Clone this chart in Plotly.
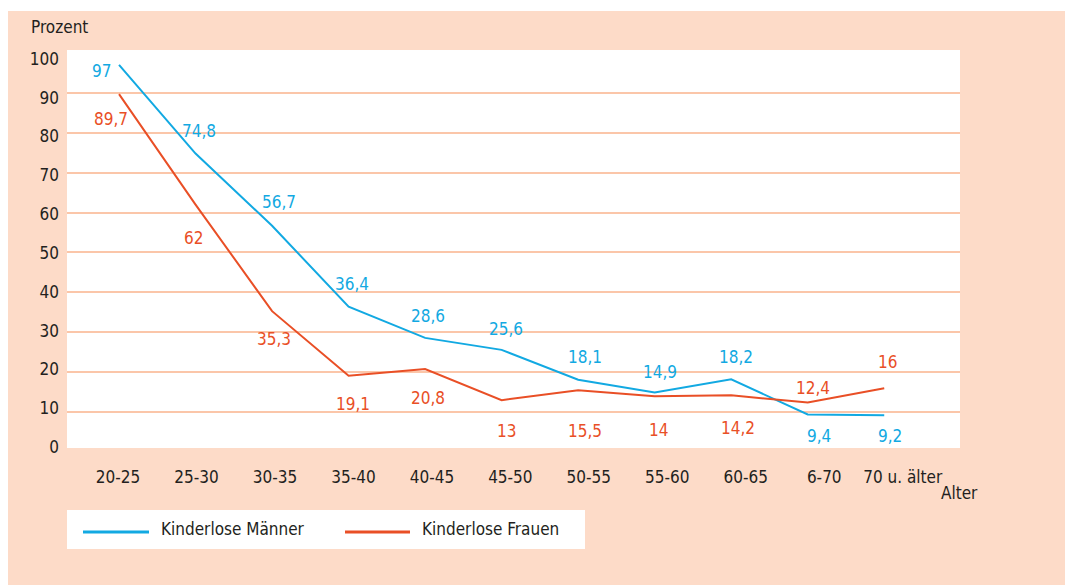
import plotly.graph_objects as go

# ---------------- data ----------------
ages = ["20-25", "25-30", "30-35", "35-40", "40-45", "45-50",
        "50-55", "55-60", "60-65", "6-70", "70 u. älter"]
maenner = [97, 74.8, 56.7, 36.4, 28.6, 25.6, 18.1, 14.9, 18.2, 9.4, 9.2]
frauen = [89.7, 62, 35.3, 19.1, 20.8, 13, 15.5, 14, 14.2, 12.4, 16]
y_tick_vals = [0, 10, 20, 30, 40, 50, 60, 70, 80, 90, 100]
grid_vals = [10, 20, 30, 40, 50, 60, 70, 80, 90]
series_names = ["Kinderlose Männer", "Kinderlose Frauen"]

# ---------------- label offsets (px) ----------------
m_shift = [(-18, -6), (3, 23), (7, 24), (3, 23), (3, 22), (4, 21),
           (7, 23), (5, 21), (5, 22), (11, -22), (6, -21)]
f_shift = [(-8, -25), (-2, -33), (2, -28), (4, -28), (3, -29), (5, -31),
           (7, -41), (4, -34), (7, -33), (5, 15), (3, 26)]

# ---------------- style ----------------
BLUE = "#12a9e2"
RED = "#e94f26"
PEACH = "#fddbc8"
GRID = "#fbc6a9"
TEXT = "#231f20"
FONT = "DejaVu Sans Condensed, Liberation Sans Narrow, sans-serif"
FS = 17

OFF = 8                      # page offset of the figure (body margin)
W, H = 1073 - OFF, 585 - OFF
# plot area in page pixels
PL, PR, PT, PB = 67, 960, 50, 448
L, R, T, B = PL - OFF, PR - OFF, PT - OFF, PB - OFF


def xp(px):
    return (px - PL) / (PR - PL)


def yp(py):
    return (PB - py) / (PB - PT)


def fmt(v):
    return str(v).replace(".", ",")


fig = go.Figure()
fig.add_trace(go.Scatter(x=ages, y=maenner, mode="lines", name=series_names[0],
                         line=dict(color=BLUE, width=2), hoverinfo="skip",
                         showlegend=False))
fig.add_trace(go.Scatter(x=ages, y=frauen, mode="lines", name=series_names[1],
                         line=dict(color=RED, width=2), hoverinfo="skip",
                         showlegend=False))
# invisible carrier trace for the label axes
fig.add_trace(go.Scatter(x=ages, y=maenner, mode="markers", xaxis="x2", yaxis="y2",
                         marker=dict(opacity=0), hoverinfo="skip", showlegend=False))

annotations = []
for i, v in enumerate(maenner):
    annotations.append(dict(x=ages[i], y=v, xref="x", yref="y", text=fmt(v),
                            showarrow=False, xshift=m_shift[i][0], yshift=m_shift[i][1],
                            font=dict(family=FONT, size=FS, color=BLUE)))
for i, v in enumerate(frauen):
    annotations.append(dict(x=ages[i], y=v, xref="x", yref="y", text=fmt(v),
                            showarrow=False, xshift=f_shift[i][0], yshift=f_shift[i][1],
                            font=dict(family=FONT, size=FS, color=RED)))

annotations.append(dict(x=xp(29), y=yp(27), xref="paper", yref="paper", text="Prozent",
                        showarrow=False, xanchor="left", yanchor="middle",
                        font=dict(family=FONT, size=FS, color=TEXT)))
annotations.append(dict(x=xp(939), y=yp(493), xref="paper", yref="paper", text="Alter",
                        showarrow=False, xanchor="left", yanchor="middle",
                        font=dict(family=FONT, size=FS, color=TEXT)))
# manual legend texts
annotations.append(dict(x=xp(159), y=yp(529), xref="paper", yref="paper", text=series_names[0],
                        showarrow=False, xanchor="left", yanchor="middle",
                        font=dict(family=FONT, size=FS, color=TEXT)))
annotations.append(dict(x=xp(420), y=yp(529), xref="paper", yref="paper", text=series_names[1],
                        showarrow=False, xanchor="left", yanchor="middle",
                        font=dict(family=FONT, size=FS, color=TEXT)))

shapes = [
    # thin white strip at the top of the page
    dict(type="rect", xref="paper", yref="paper", x0=xp(0), x1=xp(1080), y0=yp(0), y1=yp(11),
         fillcolor="white", line=dict(width=0), layer="below"),
    # legend box
    dict(type="rect", xref="paper", yref="paper", x0=xp(67), x1=xp(585), y0=yp(510), y1=yp(549),
         fillcolor="white", line=dict(width=0), layer="above"),
    dict(type="line", xref="paper", yref="paper", x0=xp(83), x1=xp(149), y0=yp(532), y1=yp(532),
         line=dict(color=BLUE, width=3), layer="above"),
    dict(type="line", xref="paper", yref="paper", x0=xp(345), x1=xp(410), y0=yp(532), y1=yp(532),
         line=dict(color=RED, width=3), layer="above"),
]

fig.update_layout(
    width=W, height=H,
    margin=dict(l=L, r=W - R, t=T, b=H - B, pad=0),
    paper_bgcolor=PEACH,
    plot_bgcolor="white",
    showlegend=False,
    annotations=annotations,
    shapes=shapes,
    font=dict(family=FONT, size=FS, color=TEXT),
    xaxis=dict(type="category", range=[-0.68, 10.99], showticklabels=False,
               showgrid=False, zeroline=False, showline=False, ticks=""),
    yaxis=dict(range=[1.0, 100.75], showticklabels=False, showgrid=False,
               zeroline=False, showline=False, ticks="",
               minor=dict(tickmode="array", tickvals=grid_vals, showgrid=True,
                          gridcolor=GRID, gridwidth=2, ticks="")),
    xaxis2=dict(type="category", overlaying="x", side="bottom", anchor="y",
                range=[-0.65, 10.73], showgrid=False, zeroline=False, showline=False,
                ticks="", ticklabelstandoff=17,
                tickfont=dict(family=FONT, size=FS, color=TEXT)),
    yaxis2=dict(overlaying="y", side="left", anchor="x", range=[-0.26, 102.3],
                tickmode="array", tickvals=y_tick_vals, showgrid=False,
                zeroline=False, showline=False, ticks="", ticklabelstandoff=7,
                tickfont=dict(family=FONT, size=FS, color=TEXT)),
)

fig.write_html("out.html")
